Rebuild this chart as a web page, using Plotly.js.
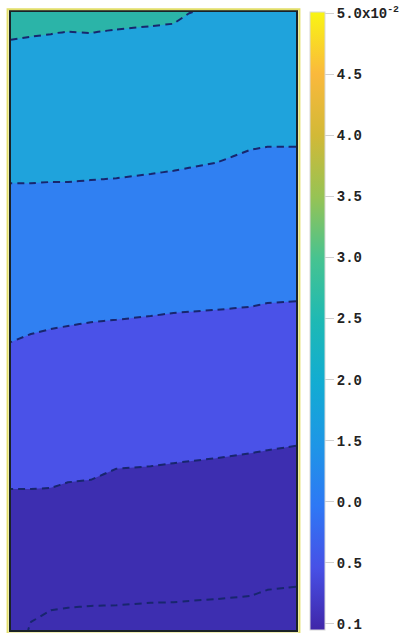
<!DOCTYPE html>
<html>
<head>
<meta charset="utf-8">
<script src="https://cdn.plot.ly/plotly-3.0.1.min.js"></script>
<style>html,body{margin:0;padding:0;background:#fff;}#chart{width:417px;height:633px;}</style>
</head>
<body>
<div id="chart"></div>
<script>
// Column positions across the domain (percent of width)
const xCols = [0, 7, 14, 20, 28, 37, 49, 57, 62.5, 72, 84, 90, 100];
// Contour levels (same units as colour bar)
const levels = [0.002, 0.006, 0.010, 0.014, 0.018];
// Height (percent of domain height) where each contour line crosses each column
const line5Y = [null, 1.3, 3.2, 3.6, 3.9, 4.0, 4.4, 4.5, 4.7, 5.0, 5.5, 6.5, 7.0];
const line4Y = [22.8, 22.8, 23.0, 23.9, 24.3, 26.1, 26.5, 27.0, 27.3, 27.8, 28.6, 29.1, 29.8];
const line3Y = [46.6, 47.9, 48.7, 49.2, 49.8, 50.2, 50.8, 51.3, 51.5, 51.8, 52.3, 52.9, 53.2];
const line2Y = [72.3, 72.3, 72.5, 72.5, 72.8, 73.1, 73.8, 74.3, 74.8, 75.6, 77.7, 78.2, 78.2];
const line1Y = [95.5, 96.0, 96.4, 96.8, 96.6, 96.6, 97.7, 98.1, 99.8, null, null, null, null];
// Field value along bottom and top edges
const bottomZ = [0.0026, 0.0019, 0.0014, 0.0013, 0.0013, 0.0013, 0.0012, 0.0012, 0.0012, 0.0011, 0.0011, 0.0009, 0.0008];
const topZ = [0.01877, 0.01868, 0.01862, 0.01855, 0.01858, 0.01858, 0.0184, 0.01833, 0.01803, 0.0178, 0.0176, 0.0175, 0.0175];
// Colour bar ticks
const cbTickVals = [0, 0.005, 0.010, 0.015, 0.020, 0.025, 0.030, 0.035, 0.040, 0.045, 0.050];
const cbTickText = ["0.1", "0.5", "0.0", "1.5", "2.0", "2.5", "3.0", "3.5", "4.0", "4.5", "5.0x10<sup>-2</sup>"];

const lines = [line5Y, line4Y, line3Y, line2Y, line1Y];
const xs = [], ys = [], zs = [];
xCols.forEach((x, i) => {
  xs.push(x); ys.push(0); zs.push(bottomZ[i]);
  lines.forEach((ly, k) => {
    if (ly[i] !== null) { xs.push(x); ys.push(ly[i]); zs.push(levels[k]); }
  });
  xs.push(x); ys.push(100); zs.push(topZ[i]);
});

const bandScale = [
  [0, '#3d2eb0'], [0.2, '#3d2eb0'], [0.4, '#4a52e8'],
  [0.6, '#3080f2'], [0.8, '#1fa3dc'], [1, '#2bb4a8']
];
const parula = [
  [0, 'rgb(64,38,168)'], [0.1, 'rgb(71,80,230)'], [0.2, 'rgb(46,120,245)'],
  [0.3, 'rgb(30,150,230)'], [0.4, 'rgb(18,172,210)'], [0.5, 'rgb(30,185,180)'],
  [0.6, 'rgb(70,195,145)'], [0.7, 'rgb(150,195,85)'], [0.8, 'rgb(210,185,55)'],
  [0.9, 'rgb(250,185,60)'], [1, 'rgb(249,245,20)']
];

const field = {
  type: 'contour', x: xs, y: ys, z: zs,
  autocontour: false,
  contours: {start: levels[0], end: levels[levels.length - 1], size: 0.004, coloring: 'fill', showlines: true},
  line: {color: '#18266e', width: 2, dash: '7px,5px', smoothing: 0},
  colorscale: bandScale, showscale: false, hoverinfo: 'skip'
};
const bar = {
  type: 'scatter', mode: 'markers', x: [null], y: [null], showlegend: false, hoverinfo: 'skip',
  marker: {
    color: [0], cmin: -0.0005, cmax: 0.0501, colorscale: parula, showscale: true,
    colorbar: {
      x: 1.049, xanchor: 'left', xpad: 0, y: 0.5, yanchor: 'middle', ypad: 0,
      len: 1.0, lenmode: 'fraction', thickness: 15, thicknessmode: 'pixels',
      outlinewidth: 1, outlinecolor: '#d8d8d8',
      tickmode: 'array', tickvals: cbTickVals, ticktext: cbTickText,
      ticks: 'outside', ticklen: 9, tickcolor: '#d0d0d0', tickwidth: 1,
      ticklabeloverflow: 'allow',
      tickfont: {family: 'Liberation Mono, monospace', size: 14, color: '#222', weight: 'bold'}
    }
  }
};

const axisCommon = {showgrid: false, zeroline: false, showticklabels: false, ticks: '',
  showline: true, mirror: true, linecolor: '#1a2228', linewidth: 2, fixedrange: true};

Plotly.newPlot('chart', [field, bar], {
  width: 417, height: 633,
  margin: {l: 11, r: 121, t: 12, b: 3},
  paper_bgcolor: '#ffffff', plot_bgcolor: '#3d2eb0',
  xaxis: Object.assign({range: [0, 100]}, axisCommon),
  yaxis: Object.assign({range: [0, 100]}, axisCommon),
  showlegend: false,
  shapes: [{type: 'rect', xref: 'paper', yref: 'paper', x0: -0.012, x1: 1.012, y0: -0.0055, y1: 1.0045,
    line: {color: '#e2de6a', width: 2}, fillcolor: 'rgba(0,0,0,0)', layer: 'above'}]
}, {staticPlot: true, displayModeBar: false});
</script>
</body>
</html>
